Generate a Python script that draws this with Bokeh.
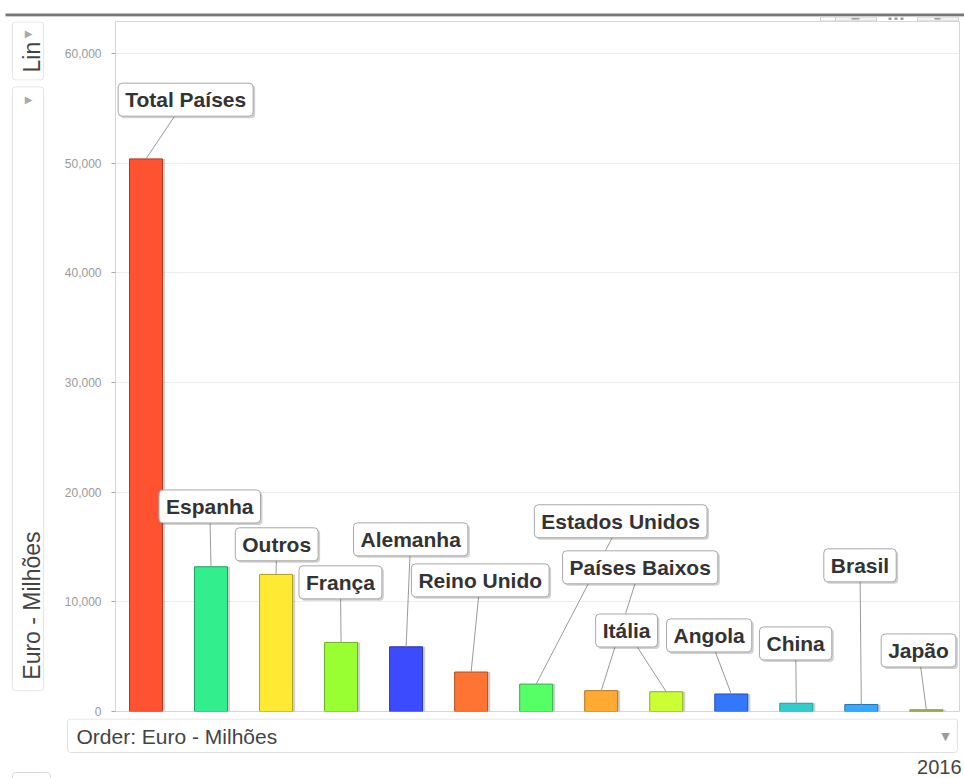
import math
from bokeh.plotting import figure
from bokeh.layouts import column, row
from bokeh.models import Range1d, ColumnDataSource, NumeralTickFormatter, FixedTicker
from bokeh.transform import dodge
from bokeh.core.properties import value
from bokeh.embed import file_html
from bokeh.resources import INLINE

# ---- data ----
countries = ["Total Países", "Espanha", "Outros", "França", "Alemanha", "Reino Unido",
             "Estados Unidos", "Países Baixos", "Itália", "Angola", "China", "Brasil", "Japão"]
euro_milhoes = [50400, 13200, 12500, 6300, 5900, 3600, 2500, 1900, 1800, 1600, 750, 640, 150]
year_label = "2016"
measure_label = "Euro - Milhões"
y_ticks = [0, 10000, 20000, 30000, 40000, 50000, 60000]

# ---- styles ----
fill_colors = ["#FF5230", "#33EE8D", "#FFEA33", "#99FF33", "#3D4BFF", "#FF7433",
               "#55FF66", "#FFAA33", "#CCFF33", "#3377FF", "#33CCCC", "#33AAFF", "#AABB55"]
edge_colors = ["#B03A20", "#22A060", "#B0A020", "#6AB022", "#2A34B0", "#B05020",
               "#3AB045", "#B07520", "#8DB022", "#2252B0", "#22A0A0", "#2275B0", "#808A40"]
# callout placement (label box centres, in axis units)
label_x = [0.61, 0.98, 2.01, 2.99, 4.07, 5.14, 7.30, 7.60, 7.39, 8.66, 9.99, 10.98, 11.88]
label_y = [55800, 18700, 15250, 11780, 15700, 11960, 17350, 13150, 7390, 6940, 6210, 13330, 5570]

W, H = 964, 778
TOP_H = 21          # strip above the chart
LEFT_W = 55         # control column left of the axis
MID_H = 697         # chart row height (frame 690 + room for the "0" label)
BOT_H = H - TOP_H - MID_H

FONT = "Liberation Sans"


def chrome_fig(w, h, x0, y0):
    f = figure(width=w, height=h, output_backend="svg", toolbar_location=None,
               x_range=Range1d(x0, x0 + w), y_range=Range1d(y0 + h, y0),
               x_axis_location=None, y_axis_location=None,
               min_border_left=0, min_border_right=0, min_border_top=0, min_border_bottom=0)
    f.grid.visible = False
    f.outline_line_color = None
    f.background_fill_color = "white"
    f.border_fill_color = "white"
    return f


# ---- main chart ----
idx = list(range(len(countries)))
src = ColumnDataSource(dict(x=idx, v=euro_milhoes, name=countries, fill=fill_colors,
                            edge=edge_colors, lx=label_x, ly=label_y))

p = figure(width=W - LEFT_W, height=MID_H, output_backend="svg", toolbar_location=None,
           x_range=Range1d(-0.469, 12.51), y_range=Range1d(0, 62930),
           x_axis_location=None, min_border_left=60, min_border_right=5,
           min_border_top=0, min_border_bottom=7)
p.outline_line_color = "#d6d6d6"
p.background_fill_color = "white"
p.border_fill_color = "white"
p.xgrid.visible = False
p.ygrid.grid_line_color = "#ececec"
p.ygrid.ticker = FixedTicker(ticks=y_ticks)

ax = p.yaxis[0]
ax.ticker = FixedTicker(ticks=y_ticks)
ax.formatter = NumeralTickFormatter(format="0,0")
ax.major_label_text_font = FONT
ax.major_label_text_font_size = "12px"
ax.major_label_text_color = "#9a9a9a"
ax.major_tick_out = 4
ax.major_tick_in = 0
ax.minor_tick_out = 0
ax.major_tick_line_color = "#aaaaaa"
ax.axis_line_color = "#d6d6d6"
ax.major_label_standoff = 10

# bar shadows and bars
p.vbar(x=dodge("x", 0.04, range=p.x_range), top="v", width=0.507, source=src,
       fill_color="#000000", fill_alpha=0.18, line_color=None)
p.vbar(x="x", top="v", width=0.507, source=src, fill_color="fill", line_color="edge",
       line_width=1)

# leader lines
p.segment(x0="x", y0="v", x1="lx", y1="ly", source=src, line_color="#9a9a9a", line_width=1)

# callout shadow + callouts
p.text(x="lx", y="ly", text="name", source=src, text_alpha=0,
       text_font=value(FONT), text_font_size="21px", text_font_style="bold",
       text_align="center", text_baseline="middle", x_offset=2, y_offset=2,
       background_fill_color="#000000", background_fill_alpha=0.18,
       padding=(7, 5), border_radius=4)
p.text(x="lx", y="ly", text="name", source=src, text_color="#333333",
       text_font=value(FONT), text_font_size="21px", text_font_style="bold",
       text_align="center", text_baseline="middle",
       background_fill_color="white", border_line_color="#a8a8a8", border_line_width=1,
       padding=(7, 5), border_radius=4)

# ---- top strip ----
top = chrome_fig(W, TOP_H, 0, 0)
top.quad(left=[5], right=[964], top=[13], bottom=[15.5], fill_color="#777777", line_color=None)
top.quad(left=[5], right=[964], top=[15.5], bottom=[16.5], fill_color="#cfcfcf", line_color=None)
top.quad(left=[820, 835, 917], right=[835, 876, 958], top=[16.5, 16.5, 16.5],
         bottom=[20.5, 20.5, 20.5], fill_color=["white", "#f4f4f4", "#f4f4f4"],
         line_color="#d0d0d0")
# tiny control marks on the tabs
top.quad(left=[851, 888, 894, 900, 934], right=[859, 891, 897, 903, 940],
         top=[17.5, 17, 17, 17, 17.5], bottom=[19, 19.5, 19.5, 19.5, 19],
         fill_color="#9a9a9a", line_color=None)

# ---- left controls ----
left = chrome_fig(LEFT_W, MID_H, 0, TOP_H)
left.quad(left=[12, 12], right=[43, 43], top=[21.5, 87], bottom=[80, 697],
          fill_color="white", line_color="#e4e4e4", border_radius=3)
left.text(x=[28, 28], y=[33, 100], text=["\u25B6", "\u25B6"],
          text_font=value("DejaVu Sans"), text_font_size="10px", text_color="#aaaaaa",
          text_align="center", text_baseline="middle")
left.text(x=[31, 31], y=[57, 611], text=["Lin", measure_label],
          text_font=value(FONT), text_font_size="23px", text_color="#444444",
          text_align="center", text_baseline="middle", angle=math.pi / 2)

# ---- bottom strip ----
bot = chrome_fig(W, BOT_H, 0, TOP_H + MID_H)
bot.quad(left=[67], right=[957], top=[718.5], bottom=[752], fill_color="white",
         line_color="#e0e0e0", border_radius=3)
bot.quad(left=[12], right=[50], top=[772], bottom=[790], fill_color="white",
         line_color="#d8d8d8", border_radius=3)
bot.text(x=[76], y=[736], text=["Order: " + measure_label], text_font=value(FONT),
         text_font_size="21px", text_color="#444444", text_align="left", text_baseline="middle")
bot.text(x=[945], y=[736], text=["\u25BC"], text_font=value("DejaVu Sans"),
         text_font_size="11px", text_color="#999999", text_align="center", text_baseline="middle")
bot.text(x=[961], y=[766.5], text=[year_label], text_font=value(FONT),
         text_font_size="20px", text_color="#444444", text_align="right",
         text_baseline="middle")

layout = column(top, row(left, p, spacing=0), bot, spacing=0)
open("out.html", "w").write(file_html(layout, INLINE))
